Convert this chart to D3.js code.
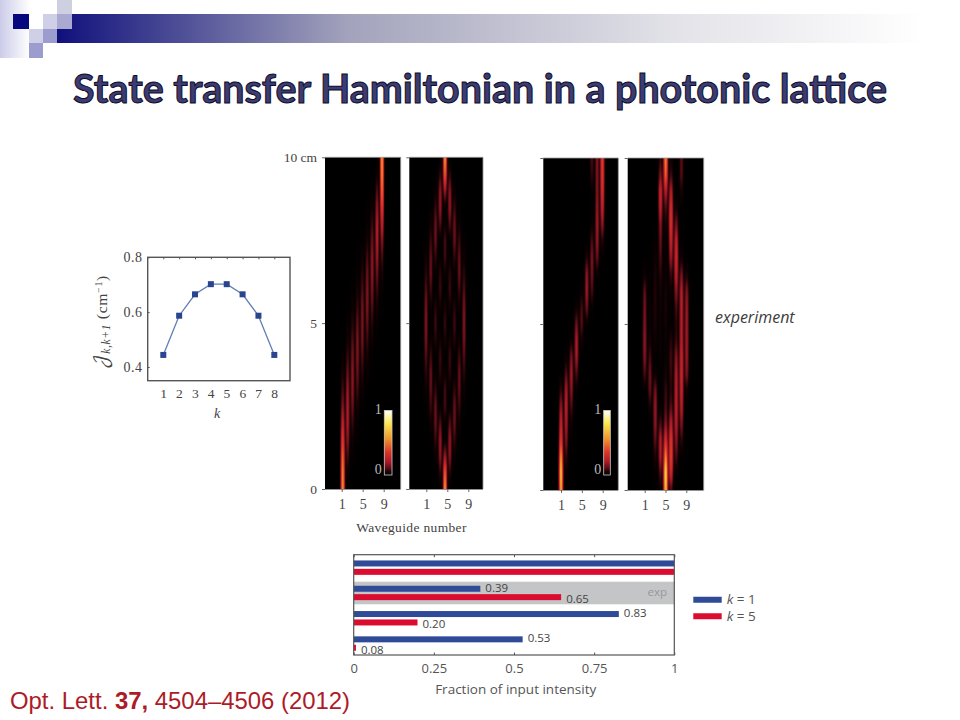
<!DOCTYPE html>
<html>
<head>
<meta charset="utf-8">
<script src="https://cdn.jsdelivr.net/npm/d3@7"></script>
<style>
  html, body { margin: 0; padding: 0; background: #fff; }
  svg { display: block; }
  .serif text, text.serif { font-family: "Liberation Serif", serif; fill: #444; }
  .sans text, text.sans { font-family: "Open Sans", sans-serif; fill: #555; }
</style>
</head>
<body>
<div id="container"></div>
<script>
// coupling constants
const couplingK = [1, 2, 3, 4, 5, 6, 7, 8];
const couplingJ = [0.444, 0.587, 0.665, 0.702, 0.702, 0.665, 0.587, 0.444];

// propagation heat maps: one row per z (0 to 10 cm in 0.5 steps), one column per waveguide 1-9
const zValues = [0, 0.5, 1, 1.5, 2, 2.5, 3, 3.5, 4, 4.5, 5, 5.5, 6, 6.5, 7, 7.5, 8, 8.5, 9, 9.5, 10];
const theoryK1 = [
  [1, 0, 0, 0, 0, 0, 0, 0, 0],
  [.95, .05, 0, 0, 0, 0, 0, 0, 0],
  [.82, .17, .02, 0, 0, 0, 0, 0, 0],
  [.64, .30, .06, .01, 0, 0, 0, 0, 0],
  [.45, .38, .14, .03, 0, 0, 0, 0, 0],
  [.28, .39, .23, .08, .02, 0, 0, 0, 0],
  [.16, .33, .30, .16, .05, .01, 0, 0, 0],
  [.08, .23, .31, .23, .11, .03, .01, 0, 0],
  [.03, .14, .26, .28, .18, .08, .02, 0, 0],
  [.01, .07, .19, .27, .25, .14, .05, .01, 0],
  [0, .03, .11, .22, .27, .22, .11, .03, 0],
  [0, .01, .05, .14, .25, .27, .19, .07, .01],
  [0, 0, .02, .08, .18, .28, .26, .14, .03],
  [0, 0, .01, .03, .11, .23, .31, .23, .08],
  [0, 0, 0, .01, .05, .16, .30, .33, .16],
  [0, 0, 0, 0, .02, .08, .23, .39, .28],
  [0, 0, 0, 0, 0, .03, .14, .38, .45],
  [0, 0, 0, 0, 0, .01, .06, .30, .64],
  [0, 0, 0, 0, 0, 0, .02, .17, .82],
  [0, 0, 0, 0, 0, 0, 0, .05, .95],
  [0, 0, 0, 0, 0, 0, 0, 0, 1]
];
const theoryK5 = [
  [0, 0, 0, 0, 1, 0, 0, 0, 0],
  [0, 0, 0, .11, .78, .11, 0, 0, 0],
  [0, 0, .04, .30, .32, .30, .04, 0, 0],
  [0, .02, .14, .33, .02, .33, .14, .02, 0],
  [0, .06, .24, .18, .04, .18, .24, .06, 0],
  [.02, .14, .24, .02, .17, .02, .24, .14, .02],
  [.05, .21, .13, .02, .16, .02, .13, .21, .05],
  [.11, .23, .02, .12, .05, .12, .02, .23, .11],
  [.18, .15, .01, .15, 0, .15, .01, .15, .18],
  [.25, .05, .10, .06, .08, .06, .10, .05, .25],
  [.27, 0, .16, 0, .14, 0, .16, 0, .27],
  [.25, .05, .10, .06, .08, .06, .10, .05, .25],
  [.18, .15, .01, .15, 0, .15, .01, .15, .18],
  [.11, .23, .02, .12, .05, .12, .02, .23, .11],
  [.05, .21, .13, .02, .16, .02, .13, .21, .05],
  [.02, .14, .24, .02, .17, .02, .24, .14, .02],
  [0, .06, .24, .18, .04, .18, .24, .06, 0],
  [0, .02, .14, .33, .02, .33, .14, .02, 0],
  [0, 0, .04, .30, .32, .30, .04, 0, 0],
  [0, 0, 0, .11, .78, .11, 0, 0, 0],
  [0, 0, 0, 0, 1, 0, 0, 0, 0]
];
const expK1 = [
  [.85, 0, 0, 0, 0, 0, 0, 0, 0],
  [1, .03, 0, 0, 0, 0, 0, 0, 0],
  [.8, .1, 0, 0, 0, 0, 0, 0, 0],
  [.5, .22, .01, 0, 0, 0, 0, 0, 0],
  [.38, .3, .04, 0, 0, 0, 0, 0, 0],
  [.26, .34, .14, 0, 0, 0, 0, 0, 0],
  [.1, .3, .24, .02, 0, 0, 0, 0, 0],
  [.01, .15, .3, .14, 0, 0, 0, 0, 0],
  [0, .03, .22, .3, 0, 0, 0, 0, 0],
  [0, 0, .04, .32, .05, 0, 0, 0, 0],
  [0, 0, 0, .2, .16, .02, 0, 0, 0],
  [0, 0, 0, .04, .14, .2, .02, 0, 0],
  [0, 0, 0, 0, .03, .28, .14, 0, 0],
  [0, 0, 0, 0, 0, .25, .2, .02, 0],
  [0, 0, 0, 0, 0, .08, .22, .18, .01],
  [0, 0, 0, 0, 0, 0, .14, .26, .08],
  [0, 0, 0, 0, 0, 0, .03, .28, .25],
  [0, 0, 0, 0, 0, 0, 0, .25, .38],
  [0, 0, 0, 0, 0, 0, .02, .22, .48],
  [0, 0, 0, 0, 0, 0, .1, .22, .52],
  [0, 0, 0, 0, 0, 0, .14, .22, .55]
];
const expK5 = [
  [0, 0, 0, .03, .85, .1, 0, 0, 0],
  [0, 0, .02, .12, 1, .4, .02, 0, 0],
  [0, 0, .06, .28, .7, .52, .12, .01, 0],
  [0, 0, .15, .3, .42, .48, .22, .08, 0],
  [0, 0, .22, .12, .2, .32, .3, .2, 0],
  [0, .05, .24, .02, .12, .14, .32, .3, .01],
  [0, .16, .18, 0, .1, .08, .3, .34, .04],
  [.12, .18, .03, .01, .05, .1, .28, .36, .2],
  [.2, .12, .01, .02, .03, .12, .22, .34, .24],
  [.22, .05, .04, .03, .03, .08, .1, .3, .25],
  [.2, .03, .06, .03, .05, .02, .08, .3, .25],
  [.18, .03, .07, .04, .06, .02, .12, .3, .24],
  [.15, .02, .07, .05, .05, .04, .22, .3, .2],
  [.03, .02, .06, .08, .03, .1, .33, .18, .05],
  [0, .01, .04, .12, .02, .25, .38, .04, 0],
  [0, 0, .02, .16, .02, .36, .34, .01, 0],
  [0, 0, 0, .2, .05, .44, .18, 0, 0],
  [0, 0, 0, .32, .12, .42, .05, .01, 0],
  [0, 0, 0, .36, .3, .3, .02, .05, 0],
  [0, 0, 0, .18, .6, .1, 0, .14, 0],
  [0, 0, 0, .08, .7, .04, 0, .14, 0]
];
const waveguides = [1, 5, 9];
const zTicks = [0, 5, 10];

// bar chart
const barGroups = ["a", "b", "c", "d"];
const barSeries = ["k = 1", "k = 5"];
const barK1 = [1, 0.395, 0.827, 0.527];
const barK5 = [1, 0.647, 0.199, 0.007];
const labelK1 = ["", "0.39", "0.83", "0.53"];
const labelK5 = ["", "0.65", "0.20", "0.08"];
const barTicks = [0, 0.25, 0.5, 0.75, 1];

const w = 960;
const h = 720;
const svg = d3.select("#container").append("svg").attr("width", w).attr("height", h);
const defs = svg.append("defs");

// slide header
const barGrad = defs.append("linearGradient").attr("id", "headerBar");
barGrad.append("stop").attr("offset", "0%").attr("stop-color", "#10107c");
barGrad.append("stop").attr("offset", "32%").attr("stop-color", "#a2a2bc");
barGrad.append("stop").attr("offset", "68%").attr("stop-color", "#e2e2e8");
barGrad.append("stop").attr("offset", "96%").attr("stop-color", "#fff");
const sideGrad = defs.append("linearGradient").attr("id", "headerSide");
sideGrad.append("stop").attr("offset", "0%").attr("stop-color", "#ccccea");
sideGrad.append("stop").attr("offset", "100%").attr("stop-color", "#fff");

svg.append("rect").attr("x", 0).attr("y", 0).attr("width", 30).attr("height", 58).attr("fill", "url(#headerSide)");
svg.append("rect").attr("x", 57).attr("y", 14).attr("width", 903).attr("height", 29).attr("fill", "url(#headerBar)");
const headerSquares = [
  [13, 14, 16, 15, "#08087e"],
  [57, 0, 15, 14, "#cfcfe2"],
  [43, 14, 14, 15, "#cfcfe8"],
  [57, 14, 15, 15, "#a9a9d2"],
  [29, 29, 14, 14, "#cfcfe8"],
  [43, 29, 14, 14, "#9c9ccf"],
  [29, 43, 14, 15, "#9c9ccf"]
];
svg.selectAll("rect.square").data(headerSquares).enter().append("rect").
  attr("class", "square").
  attr("x", d => d[0]).attr("y", d => d[1]).
  attr("width", d => d[2]).attr("height", d => d[3]).
  attr("fill", d => d[4]);

svg.append("text").
  attr("x", 480).attr("y", 103).
  attr("text-anchor", "middle").
  attr("font-family", "Lato, sans-serif").
  attr("font-weight", 700).
  attr("font-size", 39.4).
  attr("fill", "#3c3c72").
  attr("stroke", "#0c0c26").
  attr("stroke-width", 1).
  text("State transfer Hamiltonian in a photonic lattice");

const cite = svg.append("text").
  attr("x", 10).attr("y", 709).
  attr("font-family", "'Liberation Sans', sans-serif").
  attr("font-size", 23.9).
  attr("fill", "#ac1c28");
cite.append("tspan").text("Opt. Lett. ");
cite.append("tspan").attr("font-weight", 700).text("37,");
cite.append("tspan").text(" 4504\u20134506 (2012)");

// coupling chart
const lineX = d3.scaleLinear().domain([1, 8]).range([163.3, 274.3]);
const lineY = d3.scaleLinear().domain([0.35, 0.8]).range([380.7, 257.3]);
const lineG = svg.append("g").attr("class", "serif");
lineG.append("rect").
  attr("x", 147.7).attr("y", 257.3).attr("width", 142.3).attr("height", 123.4).
  attr("fill", "#fff").attr("stroke", "#555").attr("stroke-width", 1.4);

const lineAxisB = lineG.append("g").attr("transform", "translate(0,380.7)").
  call(d3.axisBottom(lineX).tickValues(couplingK).tickFormat(d3.format("d")).tickSizeOuter(0).tickSizeInner(0).tickPadding(8));
const lineAxisL = lineG.append("g").attr("transform", "translate(147.7,0)").
  call(d3.axisLeft(lineY).tickValues([0.4, 0.6, 0.8]).tickFormat(d3.format(".1f")).tickSizeOuter(0).tickSizeInner(-2).tickPadding(5));
lineG.append("g").attr("transform", "translate(0,257.3)").
  call(d3.axisTop(lineX).tickValues(couplingK).tickFormat("").tickSizeOuter(0).tickSizeInner(-2));
lineG.selectAll(".domain").remove();
lineG.selectAll(".tick line").attr("stroke", "#555");
lineAxisB.selectAll("text").attr("font-size", 13.5).attr("letter-spacing", 0.5);
lineAxisL.selectAll("text").attr("font-size", 14).attr("letter-spacing", 0.6);

const points = couplingK.map((k, i) => [k, couplingJ[i]]);
lineG.append("path").datum(points).
  attr("fill", "none").attr("stroke", "#5f7fb4").attr("stroke-width", 1.3).
  attr("d", d3.line().x(d => lineX(d[0])).y(d => lineY(d[1])));
lineG.selectAll("rect.pt").data(points).enter().append("rect").
  attr("class", "pt").
  attr("x", d => lineX(d[0]) - 3).attr("y", d => lineY(d[1]) - 3).
  attr("width", 6).attr("height", 6).
  attr("fill", "#2b4490");

lineG.append("text").attr("x", 217).attr("y", 418).
  attr("text-anchor", "middle").attr("font-style", "italic").attr("font-size", 14).text("k");
const jLabel = lineG.append("text").
  attr("transform", "translate(107,322) rotate(-90)").
  attr("text-anchor", "middle").attr("font-size", 15.5).attr("letter-spacing", 0.7);
jLabel.append("tspan").attr("style", "font-family:'DejaVu Math TeX Gyre','Liberation Serif',serif").attr("font-size", 18).text("\uD835\uDCA5");
jLabel.append("tspan").attr("font-style", "italic").attr("font-size", 11.5).attr("dy", 3).text("k,k+1");
jLabel.append("tspan").attr("dy", -3).text(" (cm");
jLabel.append("tspan").attr("font-size", 10).attr("dy", -5).text("\u22121");
jLabel.append("tspan").attr("dy", 5).text(")");

// heat maps
const heatStops = [0, 0.05, 0.1, 0.2, 0.35, 0.55, 0.8, 1];
const heatColors = ["#000000", "#1c0305", "#520c14", "#a81a26", "#d83428", "#f09028", "#fbe84a", "#ffffff"];
const heatColor = d3.scaleLinear().domain(heatStops).range(heatColors).clamp(true);

// the cells are drawn in grey, blurred, then the grey level goes through the colour map
const tableSamples = d3.range(0, 1.001, 0.02).map(v => d3.rgb(heatColor(v)));
const heatFilter = defs.append("filter").attr("id", "heat").
  attr("color-interpolation-filters", "sRGB").
  attr("x", "-5%").attr("y", "-5%").attr("width", "110%").attr("height", "110%");
heatFilter.append("feGaussianBlur").attr("stdDeviation", "0.85 6.5");
const transfer = heatFilter.append("feComponentTransfer");
[["feFuncR", "r"], ["feFuncG", "g"], ["feFuncB", "b"]].forEach(([tag, ch]) => {
  transfer.append(tag).attr("type", "table").
    attr("tableValues", tableSamples.map(c => (c[ch] / 255).toFixed(3)).join(" "));
});

const panelData = [theoryK1, theoryK5, expK1, expK5];
const panelLeft = [325, 409.3, 543.3, 627.7];
const panelRight = [400.7, 483, 618.3, 703.7];
const panelTop = [157.3, 157.3, 158, 158];
const panelBottom = [489, 489, 490, 490];
const tickAt1 = [341.7, 426.3, 561, 644.7];
const tickAt9 = [383.7, 468.3, 602.7, 686.3];
const guideAt1 = [342.7, 426, 561, 644.7];
const guideAt9 = [382, 464, 602.3, 686.7];
const cellWidth = [1.8, 1.8, 2.3, 2.7];

panelData.forEach((rows, p) => {
  const x = d3.scaleLinear().domain([1, 9]).range([tickAt1[p], tickAt9[p]]);
  const guideX = d3.scaleLinear().domain([1, 9]).range([guideAt1[p], guideAt9[p]]);
  const y = d3.scaleLinear().domain([0, 10]).range([panelBottom[p], panelTop[p]]);
  const g = svg.append("g").attr("class", "serif");

  g.append("clipPath").attr("id", `clip${p}`).append("rect").
    attr("x", panelLeft[p]).attr("y", panelTop[p]).
    attr("width", panelRight[p] - panelLeft[p]).attr("height", panelBottom[p] - panelTop[p]);

  const cells = [];
  rows.forEach((row, i) => row.forEach((v, j) => {
    if (v > 0) cells.push({ z: zValues[i], guide: j + 1, v: v });
  }));

  const field = g.append("g").attr("clip-path", `url(#clip${p})`).append("g").attr("filter", "url(#heat)");
  field.append("rect").
    attr("x", panelLeft[p] - 10).attr("y", panelTop[p] - 30).
    attr("width", panelRight[p] - panelLeft[p] + 20).attr("height", panelBottom[p] - panelTop[p] + 60).
    attr("fill", "#000");
  // the first and last rows run on past the edge so that the blur does not dim them
  field.selectAll("rect.cell").data(cells).enter().append("rect").
    attr("class", "cell").
    attr("x", d => guideX(d.guide) - cellWidth[p] / 2).
    attr("y", d => y(d.z === 10 ? 11 : d.z + 0.25)).
    attr("width", cellWidth[p]).
    attr("height", d => y(d.z === 0 ? -1 : d.z - 0.25) - y(d.z === 10 ? 11 : d.z + 0.25)).
    attr("fill", d => d3.rgb(d.v * 255, d.v * 255, d.v * 255));

  // frame lines
  g.append("path").
    attr("d", `M${panelLeft[p]},${panelTop[p]}H${panelRight[p]}V${panelBottom[p]}`).
    attr("fill", "none").attr("stroke", "#999").attr("stroke-width", 0.8);

  const axisB = g.append("g").attr("transform", `translate(0,${panelBottom[p]})`).
    call(d3.axisBottom(x).tickValues(waveguides).tickFormat(d3.format("d")).tickSizeOuter(0).tickSize(3).tickPadding(7));
  axisB.select(".domain").attr("stroke", "#777").attr("stroke-width", 0.8).
    attr("d", `M${panelLeft[p] - 3},0.5H${panelRight[p]}`);
  axisB.selectAll(".tick line").attr("stroke", "#666");
  axisB.selectAll("text").attr("font-size", 14);

  const axisL = g.append("g").attr("transform", `translate(${panelLeft[p]},0)`).
    call(d3.axisLeft(y).tickValues(zTicks).tickSizeOuter(0).tickSize(3).tickPadding(p === 0 ? 5 : 0).
      tickFormat(d => p === 0 ? (d === 10 ? "10 cm" : d) : ""));
  axisL.select(".domain").remove();
  axisL.selectAll(".tick line").attr("stroke", "#666");
  axisL.selectAll("text").attr("font-size", 13.5);
});

// colour bars
const barLeft = [384.3, 603.7];
const barWidth = [7.7, 6.6];
const barScale = d3.scaleLinear().domain([0, 1]).range([475, 410.5]);
const cbGrad = defs.append("linearGradient").attr("id", "colorBar").
  attr("x1", 0).attr("x2", 0).attr("y1", 1).attr("y2", 0);
heatStops.forEach((s, i) => cbGrad.append("stop").attr("offset", s).attr("stop-color", heatColors[i]));
barLeft.forEach((bx, i) => {
  svg.append("rect").
    attr("x", bx).attr("y", barScale(1)).
    attr("width", barWidth[i]).attr("height", barScale(0) - barScale(1)).
    attr("fill", "url(#colorBar)").attr("stroke", "#ccc").attr("stroke-width", 0.8);
  svg.selectAll(null).data([0, 1]).enter().append("text").
    attr("x", bx - 2.5).attr("y", d => barScale(d) + (d ? 3 : -1)).
    attr("text-anchor", "end").
    attr("font-family", "'Liberation Serif', serif").
    attr("font-size", 14).
    attr("fill", "#bbb").
    text(d => d);
});

svg.append("text").attr("class", "serif").
  attr("x", 411.5).attr("y", 532).attr("text-anchor", "middle").
  attr("font-size", 13.5).attr("letter-spacing", 0.35).text("Waveguide number");
svg.append("text").attr("class", "sans").
  attr("x", 715).attr("y", 323).
  attr("font-style", "italic").attr("font-size", 16).attr("style", "fill:#3c3c3c").text("experiment");

// bar chart
const barX = d3.scaleLinear().domain([0, 1]).range([353.7, 674.3]);
const groupY = d3.scaleBand().domain(barGroups).range([555, 656.2]);
const seriesY = d3.scaleBand().domain(barSeries).range([5.45, 19.85]).paddingInner(0.286);
const barColor = d3.scaleOrdinal().domain(barSeries).range(["#2f4a96", "#dc0c30"]);

const barG = svg.append("g").attr("class", "sans");
barG.append("rect").
  attr("x", barX(0)).attr("y", 581.7).attr("width", barX(1) - barX(0)).attr("height", 22.6).
  attr("fill", "#c4c5c7");
barG.append("text").attr("x", 667).attr("y", 596).attr("text-anchor", "end").
  attr("font-size", 11.5).attr("style", "fill:#97989b").text("exp");

const barRows = [];
barGroups.forEach((g, i) => {
  barRows.push({ group: g, series: barSeries[0], value: barK1[i], label: labelK1[i] });
  barRows.push({ group: g, series: barSeries[1], value: barK5[i], label: labelK5[i] });
});
barG.selectAll("rect.bar").data(barRows).enter().append("rect").
  attr("class", "bar").
  attr("x", barX(0)).
  attr("y", d => groupY(d.group) + seriesY(d.series)).
  attr("width", d => barX(d.value) - barX(0)).
  attr("height", seriesY.bandwidth()).
  attr("fill", d => barColor(d.series));
barG.selectAll("text.val").data(barRows.filter(d => d.label)).enter().append("text").
  attr("class", "val").
  attr("x", d => barX(d.value) + 5).
  attr("y", d => groupY(d.group) + seriesY(d.series) + (d.series === barSeries[1] ? 9 : 6)).
  attr("font-size", 11.5).attr("style", "fill:#444").
  text(d => d.label);

barG.append("rect").
  attr("x", barX(0)).attr("y", 554.7).attr("width", barX(1) - barX(0)).attr("height", 100.3).
  attr("fill", "none").attr("stroke", "#555").attr("stroke-width", 1.2);
const barAxis = barG.append("g").attr("transform", "translate(0,655)").
  call(d3.axisBottom(barX).tickValues(barTicks).tickFormat(d => String(d)).tickSizeOuter(0).tickSizeInner(-2.5).tickPadding(9));
barG.append("g").attr("transform", "translate(0,554.7)").
  call(d3.axisTop(barX).tickValues(barTicks).tickFormat("").tickSizeOuter(0).tickSizeInner(-2.5));
barG.selectAll(".domain").remove();
barG.selectAll(".tick line").attr("stroke", "#555");
barAxis.selectAll("text").attr("font-size", 13);
barG.append("text").
  attr("x", 515.7).attr("y", 693.5).attr("text-anchor", "middle").
  attr("font-size", 13.5).text("Fraction of input intensity");

// legend
const legendY = d3.scaleBand().domain(barSeries).range([591.5, 624.5]);
const legend = barG.selectAll("g.legend").data(barSeries).enter().append("g").
  attr("class", "legend").
  attr("transform", d => `translate(693.3,${legendY(d) + legendY.bandwidth() / 2})`);
legend.append("rect").attr("x", 0).attr("y", -3).attr("width", 28.4).attr("height", 6).attr("fill", d => barColor(d));
const legendText = legend.append("text").attr("x", 33.4).attr("y", 4.5).attr("font-size", 13.5);
legendText.append("tspan").attr("font-style", "italic").text("k");
legendText.append("tspan").text(d => d.slice(1));
</script>
</body>
</html>
